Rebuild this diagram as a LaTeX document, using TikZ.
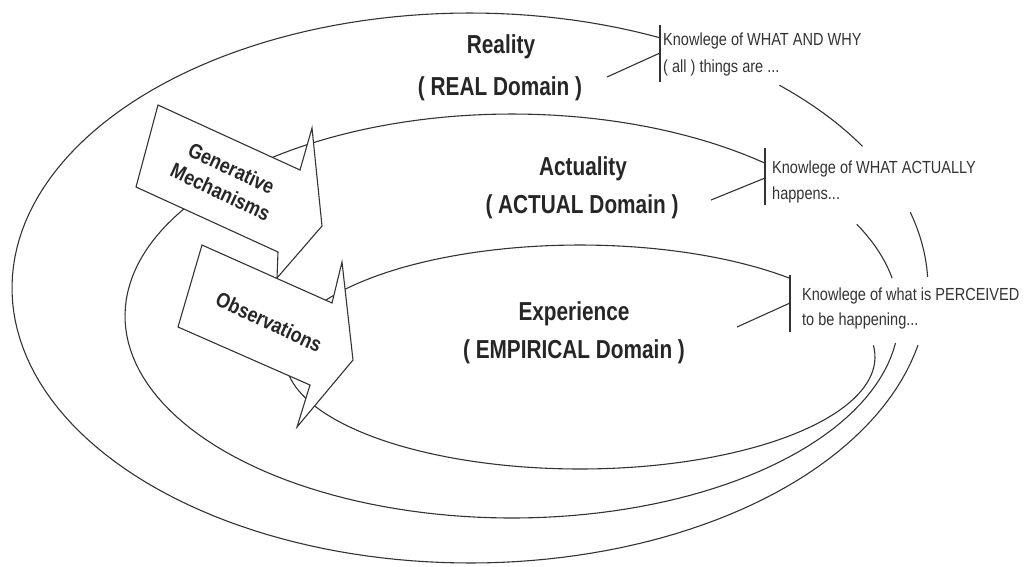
\documentclass[tikz,border=0pt]{standalone}
\usepackage{fontspec}
\setmainfont{Liberation Sans}
\newfontfamily\titlefont[FakeStretch=0.8]{Liberation Sans}
\newfontfamily\notefont[FakeStretch=0.83]{Liberation Sans}
\newfontfamily\arrowfont[FakeStretch=0.85]{Liberation Sans}
\tikzset{
  ring/.style={line width=1.1pt,draw=black!80},
  blockarrow/.style={ring,fill=white,line join=miter},
  domaintitle/.style={font=\titlefont\bfseries\fontsize{26}{30}\selectfont,text=black!85,anchor=base,inner sep=0pt},
  knowledge/.style={font=\notefont\fontsize{17.5}{20}\selectfont,text=black!80,anchor=base west,inner sep=0pt},
  arrowlabel/.style={font=\arrowfont\bfseries\fontsize{21}{26}\selectfont,text=black!85,align=center,rotate=-25,inner sep=0pt}
}
\begin{document}
\begin{tikzpicture}[x=1pt,y=-1pt]
  \useasboundingbox (0,0) rectangle (1029,566);
  \draw[ring] plot[domain=65.5:348,samples=150] ({470+458*cos(\x)},{288-275*sin(\x)});
  \draw[ring] plot[domain=31:47.5,samples=20] ({470+458*cos(\x)},{288-275*sin(\x)});
  \draw[ring] plot[domain=2.3:16,samples=20] ({470+458*cos(\x)},{288-275*sin(\x)});
  \draw[ring] plot[domain=49.2:352.3,samples=150] ({512+387*cos(\x)},{316-202*sin(\x)});
  \draw[ring] plot[domain=10.8:27,samples=20] ({512+387*cos(\x)},{316-202*sin(\x)});
  \draw[ring] plot[domain=44.6:366,samples=150] ({580+295*cos(\x)},{357-112*sin(\x)});
  \draw[blockarrow] (158,105) -- (300,170) -- (312,128) -- (322,226) -- (277,278)
    -- (278,252) -- (136,187) -- cycle;
  \draw[blockarrow] (202,245) -- (332,303) -- (342,262) -- (353,360) -- (297,427)
    -- (310,385) -- (178,327) -- cycle;
  \node[arrowlabel] (genmech) at (226,180) {Generative\\Mechanisms};
  \node[arrowlabel] (observ) at (269,322) {Observations};
  \node[domaintitle] (reality) at (501,53) {Reality};
  \node[domaintitle] (realdom) at (500,95) {( REAL Domain )};
  \node[domaintitle] (actuality) at (583,175) {Actuality};
  \node[domaintitle] (actualdom) at (582,213) {( ACTUAL Domain )};
  \node[domaintitle] (experience) at (574,320) {Experience};
  \node[domaintitle] (empiricaldom) at (574,358) {( EMPIRICAL Domain )};
  \node[knowledge] (realknowa) at (663,45) {Knowlege of WHAT AND WHY};
  \node[knowledge] (realknowb) at (663,72) {( all ) things are ...};
  \node[knowledge] (actualknowa) at (772,173) {Knowlege of WHAT ACTUALLY};
  \node[knowledge] (actualknowb) at (772,199) {happens...};
  \node[knowledge] (empiricalknowa) at (802,300) {Knowlege of what is PERCEIVED};
  \node[knowledge] (empiricalknowb) at (802,325) {to be happening...};
  \coordinate (realbartop) at (660,25);
  \coordinate (realbarbot) at (660,82);
  \coordinate (realbarmid) at (660,53);
  \coordinate (realfoot) at (607,77);
  \coordinate (actualbartop) at (765,148);
  \coordinate (actualbarbot) at (765,205);
  \coordinate (actualbarmid) at (765,178);
  \coordinate (actualfoot) at (711,200);
  \coordinate (empiricalbartop) at (790,275);
  \coordinate (empiricalbarbot) at (790,332);
  \coordinate (empiricalbarmid) at (790,303);
  \coordinate (empiricalfoot) at (737,327);
  \draw[ring] (realbartop) -- (realbarbot);
  \draw[ring] (realfoot) -- (realbarmid);
  \draw[ring] (actualbartop) -- (actualbarbot);
  \draw[ring] (actualfoot) -- (actualbarmid);
  \draw[ring] (empiricalbartop) -- (empiricalbarbot);
  \draw[ring] (empiricalfoot) -- (empiricalbarmid);
\end{tikzpicture}
\end{document}
